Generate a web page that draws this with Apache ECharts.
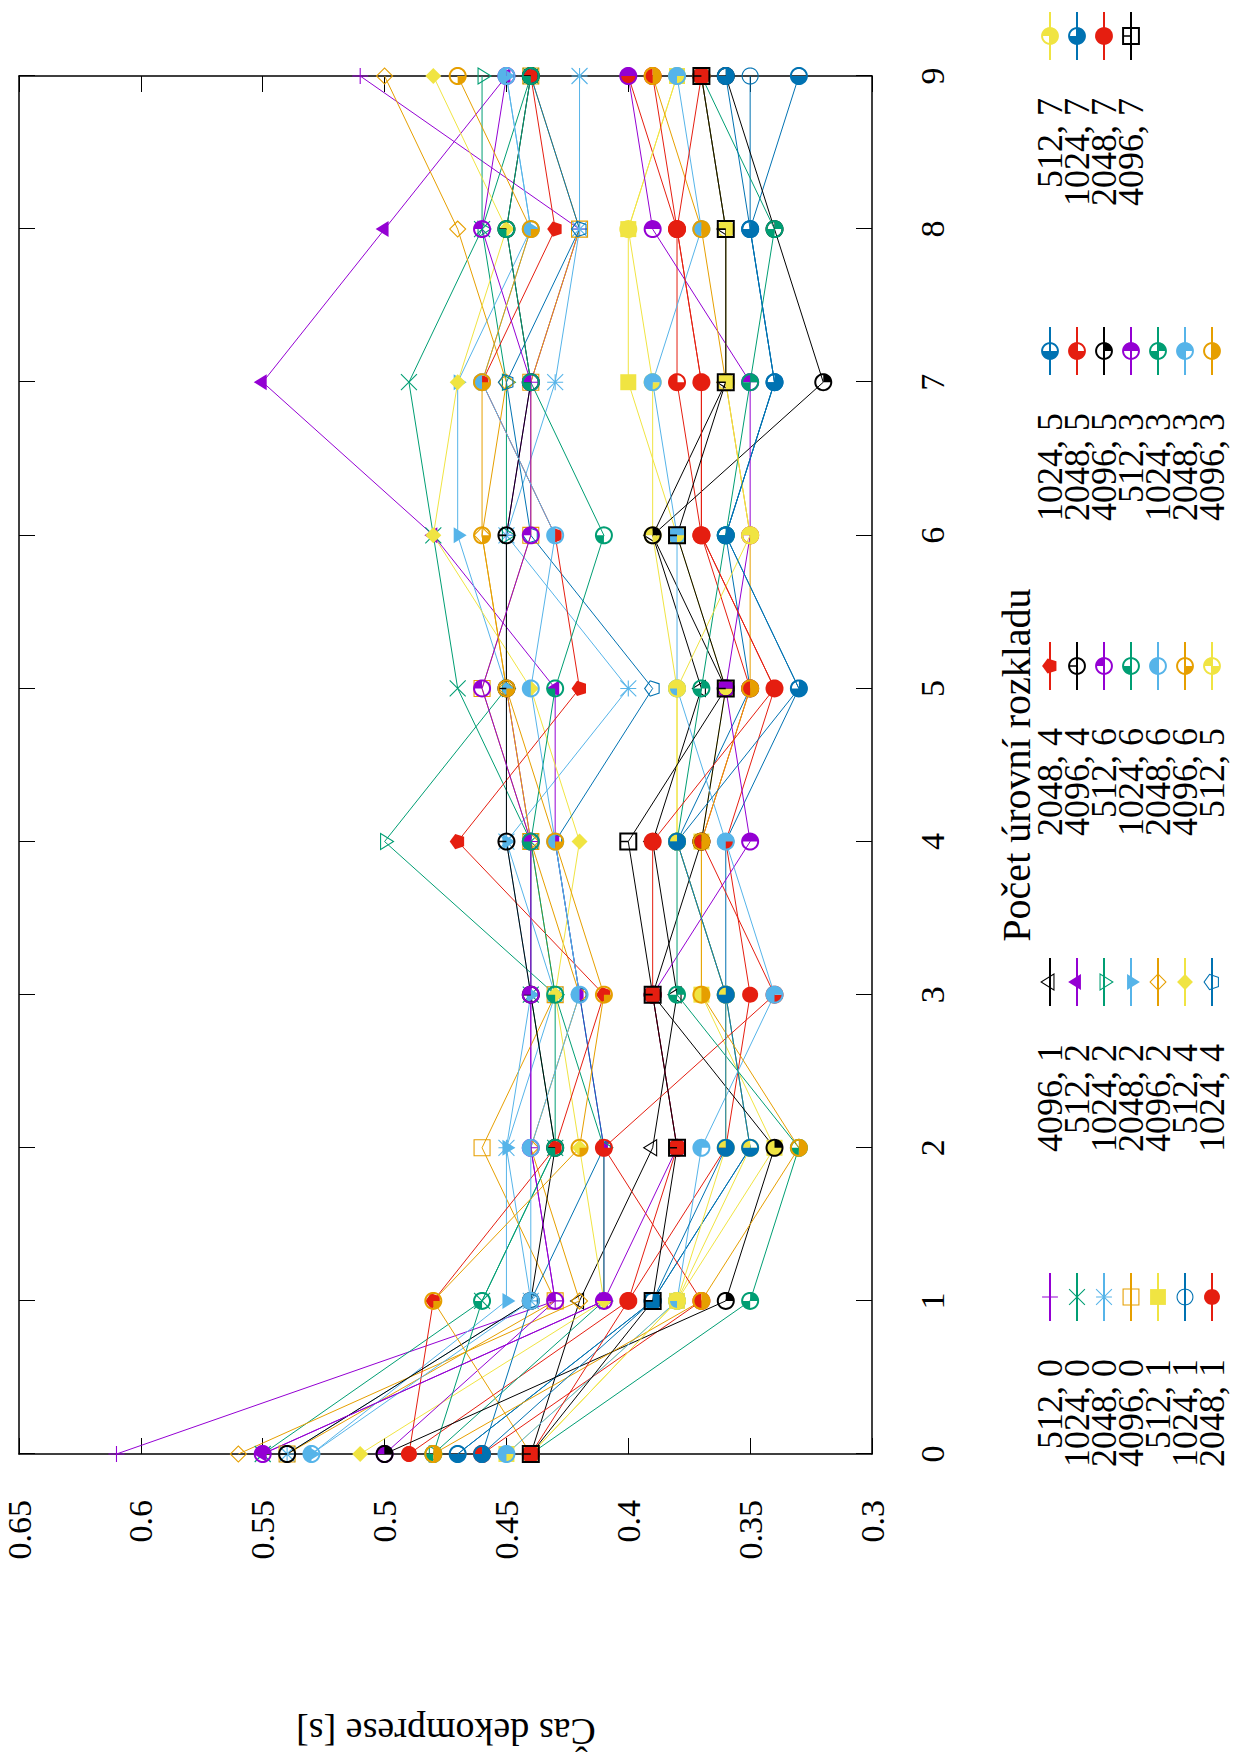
<!DOCTYPE html>
<html><head><meta charset="utf-8">
<script src="https://cdn.jsdelivr.net/npm/echarts@6/dist/echarts.min.js"></script>
<style>
html,body{margin:0;padding:0;background:#fff;overflow:hidden;width:1240px;height:1758px;}
#rot{position:absolute;left:0;top:0;width:1758px;height:1240px;transform-origin:0 0;transform:translate(0,1758px) rotate(-90deg);}
#chart{width:1758px;height:1240px;background:#fff;font-family:'Liberation Serif',serif;}
</style></head><body>
<div id="rot"><div id="chart"></div></div>
<script>
// ---------------- data ----------------
const xValues = [0, 1, 2, 3, 4, 5, 6, 7, 8, 9];
const xTickLabels = ['0', '1', '2', '3', '4', '5', '6', '7', '8', '9'];
const yTickValues = [0.3, 0.35, 0.4, 0.45, 0.5, 0.55, 0.6, 0.65];
const yTickLabels = ['0.3', '0.35', '0.4', '0.45', '0.5', '0.55', '0.6', '0.65'];
const yAxisName = 'Čas dekomprese [s]';
const legendTitle = 'Počet úrovní rozkladu';
const seriesNames = [
  '512, 0', '1024, 0', '2048, 0', '4096, 0', '512, 1', '1024, 1', '2048, 1',
  '4096, 1', '512, 2', '1024, 2', '2048, 2', '4096, 2', '512, 4', '1024, 4',
  '2048, 4', '4096, 4', '512, 6', '1024, 6', '2048, 6', '4096, 6', '512, 5',
  '1024, 5', '2048, 5', '4096, 5', '512, 3', '1024, 3', '2048, 3', '4096, 3',
  '512, 7', '1024, 7', '2048, 7', '4096, 7'
];
const d512_0  = [0.61, 0.43, 0.44, 0.44, 0.44, 0.45, 0.45, 0.44, 0.42, 0.51];
const d1024_0 = [0.55, 0.46, 0.43, 0.44, 0.44, 0.47, 0.48, 0.49, 0.46, 0.44];
const d2048_0 = [0.54, 0.44, 0.45, 0.43, 0.45, 0.40, 0.45, 0.43, 0.42, 0.42];
const d4096_0 = [0.54, 0.43, 0.46, 0.43, 0.44, 0.46, 0.44, 0.44, 0.42, 0.44];
const d512_1  = [0.45, 0.38, 0.34, 0.37, 0.37, 0.36, 0.38, 0.40, 0.40, 0.38];
const d1024_1 = [0.47, 0.39, 0.35, 0.36, 0.36, 0.33, 0.36, 0.34, 0.35, 0.35];
const d2048_1 = [0.49, 0.40, 0.36, 0.35, 0.36, 0.34, 0.37, 0.37, 0.38, 0.40];
const d4096_1 = [0.44, 0.42, 0.39, 0.38, 0.39, 0.37, 0.39, 0.36, 0.36, 0.37];
const d512_2  = [0.55, 0.41, 0.41, 0.42, 0.43, 0.43, 0.48, 0.55, 0.50, 0.45];
const d1024_2 = [0.48, 0.41, 0.41, 0.43, 0.50, 0.45, 0.45, 0.45, 0.46, 0.46];
const d2048_2 = [0.53, 0.45, 0.45, 0.44, 0.45, 0.45, 0.47, 0.47, 0.44, 0.45];
const d4096_2 = [0.56, 0.42, 0.44, 0.42, 0.44, 0.45, 0.46, 0.45, 0.47, 0.50];
const d512_4  = [0.51, 0.41, 0.42, 0.43, 0.42, 0.44, 0.48, 0.47, 0.45, 0.48];
const d1024_4 = [0.46, 0.44, 0.41, 0.42, 0.43, 0.39, 0.44, 0.45, 0.42, 0.44];
const d2048_4 = [0.49, 0.48, 0.43, 0.41, 0.47, 0.42, 0.43, 0.46, 0.43, 0.44];
const d4096_4 = [0.54, 0.44, 0.43, 0.44, 0.45, 0.45, 0.45, 0.44, 0.45, 0.44];
const d512_6  = [0.50, 0.43, 0.44, 0.44, 0.44, 0.46, 0.44, 0.44, 0.46, 0.45];
const d1024_6 = [0.48, 0.46, 0.43, 0.43, 0.44, 0.43, 0.41, 0.44, 0.45, 0.44];
const d2048_6 = [0.53, 0.44, 0.44, 0.42, 0.43, 0.44, 0.43, 0.46, 0.44, 0.45];
const d4096_6 = [0.44, 0.48, 0.42, 0.41, 0.43, 0.45, 0.46, 0.46, 0.44, 0.47];
const d512_5  = [0.44, 0.38, 0.35, 0.36, 0.38, 0.38, 0.39, 0.39, 0.40, 0.38];
const d1024_5 = [0.47, 0.39, 0.35, 0.36, 0.38, 0.35, 0.36, 0.34, 0.35, 0.33];
const d2048_5 = [0.46, 0.37, 0.41, 0.34, 0.37, 0.35, 0.37, 0.38, 0.38, 0.39];
const d4096_5 = [0.50, 0.36, 0.34, 0.39, 0.37, 0.36, 0.39, 0.32, 0.34, 0.36];
const d512_3  = [0.55, 0.41, 0.38, 0.39, 0.35, 0.36, 0.35, 0.35, 0.39, 0.40];
const d1024_3 = [0.44, 0.35, 0.33, 0.38, 0.38, 0.37, 0.36, 0.35, 0.34, 0.37];
const d2048_3 = [0.45, 0.38, 0.37, 0.34, 0.36, 0.38, 0.38, 0.39, 0.37, 0.38];
const d4096_3 = [0.48, 0.37, 0.33, 0.37, 0.37, 0.35, 0.35, 0.36, 0.37, 0.39];
const d512_7  = [0.44, 0.38, 0.36, 0.36, 0.38, 0.38, 0.35, 0.36, 0.36, 0.37];
const d1024_7 = [0.46, 0.39, 0.36, 0.36, 0.38, 0.33, 0.36, 0.34, 0.35, 0.36];
const d2048_7 = [0.44, 0.40, 0.38, 0.39, 0.39, 0.34, 0.37, 0.37, 0.38, 0.37];
const d4096_7 = [0.44, 0.39, 0.38, 0.39, 0.40, 0.36, 0.38, 0.36, 0.36, 0.37];

const seriesValues = [
  d512_0, d1024_0, d2048_0, d4096_0, d512_1, d1024_1, d2048_1,
  d4096_1, d512_2, d1024_2, d2048_2, d4096_2, d512_4, d1024_4,
  d2048_4, d4096_4, d512_6, d1024_6, d2048_6, d4096_6, d512_5,
  d1024_5, d2048_5, d4096_5, d512_3, d1024_3, d2048_3, d4096_3,
  d512_7, d1024_7, d2048_7, d4096_7
];

// ---------------- styles ----------------
const palette = ['#9400d3', '#009e73', '#56b4e9', '#e69f00', '#f0e442', '#0072b2', '#e51e10', '#000000'];
const FONT = 'Liberation Serif';
const TICKFONT = '34px Liberation Serif';

// gnuplot-like point symbols, built as filled paths in a -10..110 box
const CX = 50, CY = 50, H = 44, TN = 6, TK = 11;
const SZ = 21.8;
function area2(p){let s=0;for(let i=0;i<p.length;i++){const a=p[i],b=p[(i+1)%p.length];s+=a[0]*b[1]-b[0]*a[1];}return s;}
function cw(p){return area2(p)>0?p:p.slice().reverse();}
function ccw(p){return area2(p)<0?p:p.slice().reverse();}
function ps(p){return 'M'+p.map(q=>q[0].toFixed(2)+' '+q[1].toFixed(2)).join('L')+'Z';}
function circ(r){const n=44,p=[];for(let i=0;i<n;i++){const a=2*Math.PI*i/n;p.push([CX+r*Math.cos(a),CY+r*Math.sin(a)]);}return p;}
function scaleAbout(p,c,k){return p.map(q=>[c[0]+(q[0]-c[0])*k,c[1]+(q[1]-c[1])*k]);}
function ringPoly(p,c,r,t){return ps(cw(scaleAbout(p,c,(r+t/2)/r)))+ps(ccw(scaleAbout(p,c,(r-t/2)/r)));}
function ringCircle(r,t){return ps(cw(circ(r+t/2)))+ps(ccw(circ(r-t/2)));}
function bar(x1,y1,x2,y2,t){const dx=x2-x1,dy=y2-y1,L=Math.hypot(dx,dy),nx=-dy/L*t/2,ny=dx/L*t/2;
  return ps(cw([[x1+nx,y1+ny],[x2+nx,y2+ny],[x2-nx,y2-ny],[x1-nx,y1-ny]]));}
function sector(r,a1,a2){const p=[[CX,CY]];const n=15;for(let i=0;i<=n;i++){const a=(a1+(a2-a1)*i/n)*Math.PI/180;p.push([CX+r*Math.cos(a),CY-r*Math.sin(a)]);}return ps(cw(p));}
function triIn(p){const [A,B,C]=p;const a=Math.hypot(B[0]-C[0],B[1]-C[1]),b=Math.hypot(A[0]-C[0],A[1]-C[1]),c=Math.hypot(A[0]-B[0],A[1]-B[1]);
  const s=a+b+c;return {c:[(a*A[0]+b*B[0]+c*C[0])/s,(a*A[1]+b*B[1]+c*C[1])/s],r:Math.abs(area2(p))/s};}
const ANCH = 'M-10 -10L-10 -10M110 110L110 110';
const triU = [[CX,CY-1.12*H],[CX+H,CY+0.5*H],[CX-H,CY+0.5*H]];
const triD = [[CX,CY+1.12*H],[CX-H,CY-0.5*H],[CX+H,CY-0.5*H]];
const dia = [[CX-H,CY],[CX,CY-H],[CX+H,CY],[CX,CY+H]];
const box = [[CX-H,CY-H],[CX+H,CY-H],[CX+H,CY+H],[CX-H,CY+H]];
const pent = [0,1,2,3,4].map(k=>{const a=(90+72*k)*Math.PI/180;return [CX+H*Math.cos(a),CY-H*Math.sin(a)];});
const tU = triIn(triU), tD = triIn(triD);
function pointPath(pt){
  const plus = bar(CX,CY-H,CX,CY+H,TN)+bar(CX-H,CY,CX+H,CY,TN);
  const cross = bar(CX-H,CY-H,CX+H,CY+H,TN)+bar(CX-H,CY+H,CX+H,CY-H,TN);
  let d='';
  switch(pt){
    case 1: d=plus; break;
    case 2: d=cross; break;
    case 3: d=plus+cross; break;
    case 4: d=ringPoly(box,[CX,CY],H,TN); break;
    case 5: d=ps(cw(box)); break;
    case 6: d=ringCircle(H,TN); break;
    case 7: d=ps(cw(circ(H))); break;
    case 8: d=ringPoly(triU,tU.c,tU.r,TN); break;
    case 9: d=ps(cw(triU)); break;
    case 10: d=ringPoly(triD,tD.c,tD.r,TN); break;
    case 11: d=ps(cw(triD)); break;
    case 12: d=ringPoly(dia,[CX,CY],H/Math.SQRT2,TN); break;
    case 13: d=ps(cw(dia)); break;
    case 14: d=ringPoly(pent,[CX,CY],H*Math.cos(Math.PI/5),TN); break;
    case 15: d=ps(cw(pent)); break;
    case 32: d=ringPoly(box,[CX,CY],H,TK)+bar(CX,CY,CX,CY-H,TK*0.8); break;
    default: {
      const n = pt-16;
      if(n===15){ d=ps(cw(circ(H+TK/2))); }
      else {
        d=ringCircle(H,TK);
        if(n===0) d+=bar(CX,CY,CX,CY-H,TK*0.8);
        for(let q=0;q<4;q++){ if(n&(1<<q)) d+=sector(H+TK/2-0.5,90*q,90*(q+1)); }
      }
    }
  }
  return 'path://'+ANCH+d;
}

const legendCols = [seriesNames.slice(0,7), seriesNames.slice(7,14), seriesNames.slice(14,21), seriesNames.slice(21,28), seriesNames.slice(28,32)];
const legendRight = [1272, 957, 641, 326, 11];

const chart = echarts.init(document.getElementById('chart'), null, {renderer:'svg', width:1758, height:1240});

const axisLineStyle = {color:'#000', width:1.5};
const tickStyle = {show:true, inside:true, length:16, lineStyle:{color:'#000', width:1}};

const baseGraphic = [
  {type:'text', x:26, y:446, rotation:Math.PI/2,
   style:{text:yAxisName, font:'38px Liberation Serif', fill:'#000', textAlign:'center', textVerticalAlign:'middle', align:'center', verticalAlign:'middle'}},
  {type:'text', x:993, y:1016,
   style:{text:legendTitle, font:'40px Liberation Serif', fill:'#000', textAlign:'center', textVerticalAlign:'middle', align:'center', verticalAlign:'middle'}}
];

const option = {
  backgroundColor:'#fff',
  animation:false,
  textStyle:{fontFamily:FONT, color:'#000'},
  grid:{left:304, right:76, top:19, bottom:368, containLabel:false, outerBoundsMode:'none'},
  xAxis:[
    {type:'value', min:0, max:9, interval:1, position:'bottom',
     axisLine:{show:true, onZero:false, lineStyle:axisLineStyle}, axisTick:tickStyle,
     axisLabel:{show:false}, splitLine:{show:false}},
    {type:'value', min:0, max:9, interval:1, position:'top',
     axisLine:{show:true, onZero:false, lineStyle:axisLineStyle}, axisTick:tickStyle,
     axisLabel:{show:false}, splitLine:{show:false}}
  ],
  yAxis:[
    {type:'value', min:0.3, max:0.65, interval:0.05, position:'left',
     axisLine:{show:true, onZero:false, lineStyle:axisLineStyle}, axisTick:tickStyle,
     axisLabel:{show:false}, splitLine:{show:false}},
    {type:'value', min:0.3, max:0.65, interval:0.05, position:'right',
     axisLine:{show:true, onZero:false, lineStyle:axisLineStyle}, axisTick:tickStyle,
     axisLabel:{show:false}, splitLine:{show:false}}
  ],
  legend: legendCols.map((names,k)=>({
    data:names, orient:'vertical', align:'right', right:legendRight[k], top:1032, height:600,
    itemWidth:48, itemHeight:27, itemGap:-9, padding:0, selectedMode:false,
    textStyle:{fontFamily:FONT, fontSize:36, color:'#000', padding:[0,33,0,0]}
  })),
  graphic: baseGraphic,
  series: seriesValues.map((vals,i)=>({
    type:'line', name:seriesNames[i], xAxisIndex:0, yAxisIndex:0,
    data: xValues.map((x,j)=>[x, vals[j]]),
    symbol: pointPath(i+1), symbolSize: SZ, symbolKeepAspect:true,
    showSymbol:true, showAllSymbol:true, clip:false, silent:true,
    lineStyle:{color:palette[i%8], width:1},
    itemStyle:{color:palette[i%8]},
    emphasis:{disabled:true}
  }))
};
chart.setOption(option);

// tick labels placed through the axes' own scales
const tickGraphic = [];
xValues.forEach((x,i)=>{
  const p = chart.convertToPixel({gridIndex:0}, [x, yTickValues[0]]);
  tickGraphic.push({type:'text', x:p[0], y:p[1]+43,
    style:{text:xTickLabels[i], font:TICKFONT, fill:'#000', textAlign:'center', textVerticalAlign:'top', align:'center', verticalAlign:'top'}});
});
yTickValues.forEach((v,i)=>{
  const p = chart.convertToPixel({gridIndex:0}, [xValues[0], v]);
  tickGraphic.push({type:'text', x:p[0]-46, y:p[1],
    style:{text:yTickLabels[i], font:TICKFONT, fill:'#000', textAlign:'right', textVerticalAlign:'middle', align:'right', verticalAlign:'middle'}});
});
chart.setOption({graphic: baseGraphic.concat(tickGraphic)});
</script>
</body></html>
